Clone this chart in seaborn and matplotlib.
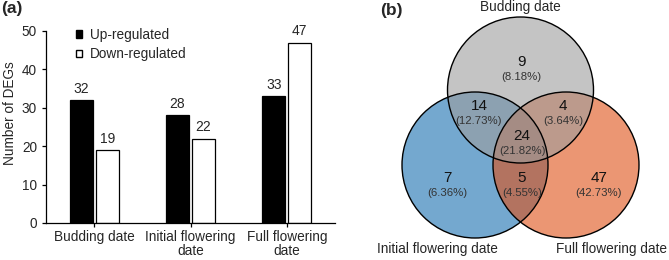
import matplotlib
matplotlib.use("Agg")
import matplotlib.pyplot as plt
from matplotlib.patches import Circle, Patch
import pandas as pd
import seaborn as sns

# bar chart data
stages = ['Budding date', 'Initial flowering\ndate', 'Full flowering\ndate']
up_regulated = [32, 28, 33]
down_regulated = [19, 22, 47]

# venn data (regions)
venn_labels = ['Budding date', 'Initial flowering date', 'Full flowering date']
venn_regions = ['B', 'BI', 'BF', 'BIF', 'I', 'IF', 'F']
venn_counts = [9, 14, 4, 24, 7, 5, 47]

sns.set_style('ticks')
plt.rcParams['font.family'] = ['Liberation Sans', 'DejaVu Sans']

df = pd.DataFrame({
    'Stage': stages * 2,
    'Count': up_regulated + down_regulated,
    'Type': ['Up-regulated'] * 3 + ['Down-regulated'] * 3,
})

fig = plt.figure(figsize=(6.69, 2.6), dpi=100)

# ---- (a) bar chart
ax = fig.add_axes([46 / 669, 37 / 260, 289 / 669, 192 / 260])
sns.barplot(data=df, x='Stage', y='Count', hue='Type',
            palette={'Up-regulated': 'black', 'Down-regulated': 'white'},
            width=0.54, gap=0.12, edgecolor='black', linewidth=0.9,
            legend=False, ax=ax)
for container in ax.containers:
    ax.bar_label(container, fmt='%d', padding=3, fontsize=10)

ax.set_xlim(-0.5, 2.5)
ax.set_ylim(0, 50)
ax.set_yticks(range(0, 51, 10))
ax.set_xlabel('')
ax.set_ylabel('Number of DEGs', fontsize=9.8)
ax.yaxis.set_label_coords(-0.1, 0.57)
ax.tick_params(axis='both', labelsize=9.8, length=3, width=0.9, color='black')
ax.tick_params(axis='x', pad=2)
for lbl in ax.get_xticklabels():
    lbl.set_linespacing(1.0)
ax.spines['top'].set_visible(False)
ax.spines['right'].set_visible(False)
for s in ['left', 'bottom']:
    ax.spines[s].set_linewidth(0.9)
    ax.spines[s].set_color('black')

handles = [Patch(facecolor='black', edgecolor='black', label='Up-regulated'),
           Patch(facecolor='white', edgecolor='black', label='Down-regulated')]
ax.legend(handles=handles, loc='upper left', bbox_to_anchor=(0.085, 1.045),
          frameon=False, fontsize=9.8, handlelength=0.45, handleheight=0.45,
          handletextpad=0.55, labelspacing=0.4, borderaxespad=0)

fig.text(1 / 669, 1 - 9 / 260, '(a)', fontsize=12.5, fontweight='bold', va='center')

# ---- (b) venn diagram
vx = fig.add_axes([370 / 669, 0, 299 / 669, 1])
vx.set_xlim(370, 669)
vx.set_ylim(260, 0)
vx.axis('off')

r = 73
centers = {'B': (520.5, 90), 'I': (475, 165), 'F': (566, 165)}
colors = {'B': (157 / 255, 157 / 255, 157 / 255),
          'I': (23 / 255, 110 / 255, 175 / 255),
          'F': (222 / 255, 80 / 255, 22 / 255)}
for key in ['I', 'F', 'B']:
    vx.add_patch(Circle(centers[key], r, facecolor=colors[key], alpha=0.6,
                        edgecolor='none'))
for key in ['I', 'F', 'B']:
    vx.add_patch(Circle(centers[key], r, facecolor='none', edgecolor='black',
                        linewidth=1.0))

total = sum(venn_counts)
text_pos = {'B': (521, 62), 'BI': (479, 106), 'BF': (563, 106),
            'BIF': (522, 136), 'I': (447, 178), 'IF': (522, 178), 'F': (599, 178)}
for reg, n in zip(venn_regions, venn_counts):
    x, y = text_pos[reg]
    vx.text(x, y, str(n), fontsize=11, ha='center', va='center', color='#111111')
    vx.text(x, y + 15, f'({n / total * 100:.2f}%)', fontsize=8.2, ha='center',
            va='center', color='#333333')

vx.text(520, 7, venn_labels[0], fontsize=9.8, ha='center', va='center')
vx.text(437, 249, venn_labels[1], fontsize=9.8, ha='center', va='center')
vx.text(612, 249, venn_labels[2], fontsize=9.8, ha='center', va='center')
vx.text(380, 10, '(b)', fontsize=12.5, fontweight='bold', va='center')

fig.savefig('out.png', dpi=100)
